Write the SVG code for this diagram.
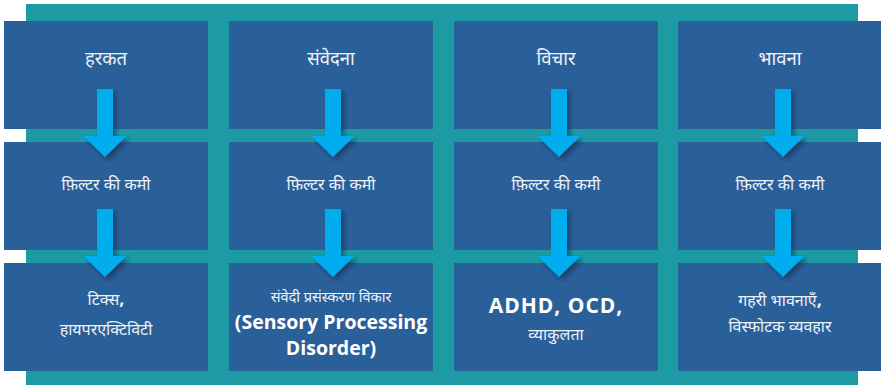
<svg xmlns="http://www.w3.org/2000/svg" width="881" height="385" viewBox="0 0 881 385">
  <defs>
    <filter id="shadow" x="-50%" y="-20%" width="200%" height="150%">
      <feDropShadow dx="3" dy="3" stdDeviation="2.5" flood-color="#0a2440" flood-opacity="0.55"/>
    </filter>
    <path id="arrow" d="M-8,0 H8 V47 H21.5 L0,68 L-21.5,47 H-8 Z"/>
  </defs>
  <style>
    .box { fill: #2a609a; }
    .arr { fill: #00adee; filter: url(#shadow); }
    .t { fill: #eef2f7; font-family: "Noto Sans", "Noto Sans Devanagari", "Lohit Devanagari", sans-serif; text-anchor: middle; }
    .h { font-size: 18.5px; }
    .m { font-size: 16px; }
    .s { font-size: 14.5px; }
    .b { fill: #ffffff; font-family: "Open Sans", "Noto Sans", sans-serif; font-weight: 700; text-anchor: middle; font-size: 19.5px; }
    .big { font-size: 21px; letter-spacing: 1px; }
  </style>

  <!-- teal backing frame -->
  <rect x="26" y="4" width="832" height="381" fill="#1d9ba5"/>

  <!-- row 1 -->
  <g id="n-harkat"><rect class="box" x="4" y="21" width="204" height="108"/><text class="t h" x="106" y="65">हरकत</text></g>
  <g id="n-samvedna"><rect class="box" x="229" y="21" width="204" height="108"/><text class="t h" x="331" y="65">संवेदना</text></g>
  <g id="n-vichar"><rect class="box" x="454" y="21" width="204" height="108"/><text class="t h" x="556" y="65">विचार</text></g>
  <g id="n-bhavna"><rect class="box" x="678" y="21" width="204" height="108"/><text class="t h" x="780" y="65">भावना</text></g>

  <!-- row 2 -->
  <g id="n-filter1"><rect class="box" x="4" y="142" width="204" height="108"/><text class="t m" x="106" y="190">फ़िल्टर की कमी</text></g>
  <g id="n-filter2"><rect class="box" x="229" y="142" width="204" height="108"/><text class="t m" x="331" y="190">फ़िल्टर की कमी</text></g>
  <g id="n-filter3"><rect class="box" x="454" y="142" width="204" height="108"/><text class="t m" x="556" y="190">फ़िल्टर की कमी</text></g>
  <g id="n-filter4"><rect class="box" x="678" y="142" width="204" height="108"/><text class="t m" x="780" y="190">फ़िल्टर की कमी</text></g>

  <!-- row 3 -->
  <g id="n-tics"><rect class="box" x="4" y="263" width="204" height="108"/>
    <text class="t m" x="106" y="305">टिक्स<tspan font-weight="700" font-size="18">,</tspan></text>
    <text class="t m" x="106" y="335">हायपरएक्टिविटी</text></g>
  <g id="n-spd"><rect class="box" x="229" y="263" width="204" height="108"/>
    <text class="t s" x="331" y="302">संवेदी प्रसंस्करण विकार</text>
    <text class="b" x="331" y="329">(Sensory Processing</text>
    <text class="b" x="331" y="355">Disorder)</text></g>
  <g id="n-adhd"><rect class="box" x="454" y="263" width="204" height="108"/>
    <text class="b big" x="556" y="313">ADHD, OCD,</text>
    <text class="t m" x="556" y="340">व्याकुलता</text></g>
  <g id="n-emotions"><rect class="box" x="678" y="263" width="204" height="108"/>
    <text class="t m" x="780" y="306">गहरी भावनाएँ<tspan font-weight="700" font-size="18">,</tspan></text>
    <text class="t m" x="780" y="332">विस्फोटक व्यवहार</text></g>

  <!-- downward arrows linking the rows -->
  <g id="connectors">
    <use href="#arrow" class="arr" x="105" y="89"/>
    <use href="#arrow" class="arr" x="105" y="209"/>
    <use href="#arrow" class="arr" x="333" y="89"/>
    <use href="#arrow" class="arr" x="333" y="209"/>
    <use href="#arrow" class="arr" x="559" y="89"/>
    <use href="#arrow" class="arr" x="559" y="209"/>
    <use href="#arrow" class="arr" x="783" y="89"/>
    <use href="#arrow" class="arr" x="783" y="209"/>
  </g>
</svg>
